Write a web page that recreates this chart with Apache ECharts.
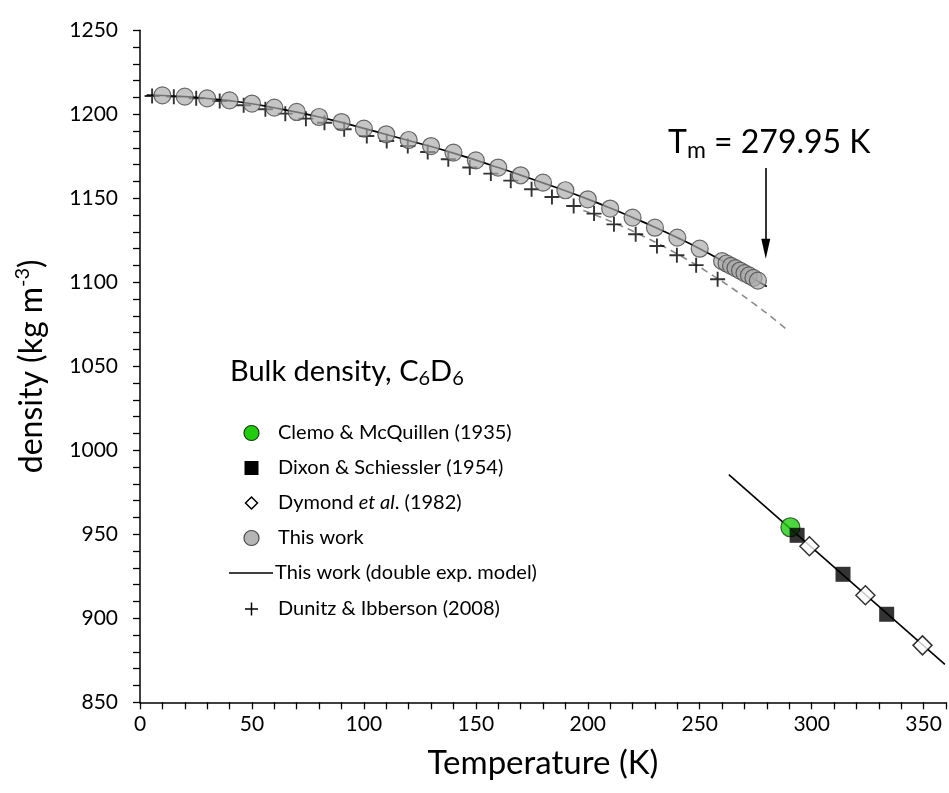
<!DOCTYPE html>
<html><head><meta charset="utf-8">
<script src="https://cdn.jsdelivr.net/npm/echarts@6/dist/echarts.min.js"></script>
<style>html,body{margin:0;padding:0;background:#fff}#c{width:949px;height:793px}</style>
</head><body><div id="c"></div>
<script>
// ---- data ----
const xTicks = [0, 50, 100, 150, 200, 250, 300, 350];
const yTicks = [850, 900, 950, 1000, 1050, 1100, 1150, 1200, 1250];
const thisWorkT = [10,20,30,40,50,60,70,80,90,100,110,120,130,140,150,160,170,180,190,200,210,220,230,240,250,260,262,264,266,268,270,272,274,276];
const thisWorkRho = [1211.3,1210.5,1209.5,1208.3,1206.4,1204.0,1201.4,1198.4,1195.4,1191.5,1188.1,1184.7,1181.1,1177.2,1172.6,1168.3,1163.7,1159.3,1154.8,1149.4,1143.9,1138.5,1132.5,1126.6,1120.0,1112.6,1111.2,1109.8,1108.4,1107.0,1105.5,1104.1,1102.6,1101.0];
const modelT = [3,10,20,30,40,50,60,70,80,90,100,110,120,130,140,150,160,170,180,190,200,210,220,230,240,250,260,270,279.95];
const modelRho = [1211.5,1211.2,1210.5,1209.4,1208.1,1206.3,1203.9,1201.3,1198.4,1195.2,1191.6,1188.0,1184.4,1180.8,1176.9,1172.7,1168.3,1163.8,1159.2,1154.5,1149.5,1144.2,1138.6,1132.8,1126.6,1120.0,1112.8,1105.3,1097.5];
const dunitzT = [5.4,15.1,25.1,35.6,46.3,56,64.9,74.1,82.4,91.2,101.3,110.2,119.6,128.5,137.7,147.3,156.7,165.6,174.9,184,193.7,202.8,211.7,221.4,230.9,239.8,248.4,258];
const dunitzRho = [1210.9,1210.5,1209.5,1207.9,1205.4,1203.0,1200.4,1197.4,1195.0,1191.1,1187.1,1184.1,1181.1,1177.6,1173.2,1168.3,1164.7,1160.5,1155.4,1150.8,1145.4,1140.9,1134.5,1128.6,1121.6,1116.1,1110.2,1101.8];
const dunitzFitT = [198,205,215,225,235,245,255,265,275,285,290];
const dunitzFitRho = [1142.8,1139.2,1133.5,1127.3,1120.5,1113.0,1104.8,1096.0,1086.5,1076.2,1070.5];
const clemoT = [290.5];
const clemoRho = [954.2];
const dixonT = [293.5, 314, 333.5];
const dixonRho = [949.4, 926.2, 902.4];
const dymondT = [299, 324, 349.5];
const dymondRho = [942.9, 913.7, 883.9];
const liquidLineT = [263, 359.5];
const liquidLineRho = [985.5, 872.6];
const meltT = 279.5;
const arrowRho = [1168, 1120];

const zip = (a, b) => a.map((v, i) => [v, b[i]]);
const FONT = 'Lato';
const crossPath = 'path://M0,5L10,5M5,0L5,10';

const chart = echarts.init(document.getElementById('c'));
const option = {
  backgroundColor: '#fff',
  animation: false,
  textStyle: { fontFamily: FONT, color: '#000' },
  grid: { left: 140, right: 1.5, top: 30.3, bottom: 90.7, containLabel: false },
  xAxis: {
    type: 'value', min: 0, max: 360, interval: 50,
    axisLine: { show: true, lineStyle: { color: '#000', width: 1.5 } },
    axisTick: { show: true, inside: false, length: 7, lineStyle: { color: '#000', width: 1.3 } },
    minorTick: { show: true, splitNumber: 5, length: 7, lineStyle: { color: '#000', width: 1.3 } },
    splitLine: { show: false },
    axisLabel: { fontSize: 21, color: '#000', margin: 11, fontFamily: FONT,
      formatter: v => xTicks.includes(v) ? String(v) : '' },
    name: 'Temperature (K)', nameLocation: 'middle', nameGap: 45,
    nameTextStyle: { fontSize: 33, color: '#000', fontFamily: FONT }
  },
  yAxis: {
    type: 'value', min: 850, max: 1250, interval: 50,
    axisLine: { show: true, lineStyle: { color: '#000', width: 1.5 } },
    axisTick: { show: true, inside: false, length: 7, lineStyle: { color: '#000', width: 1.3 } },
    minorTick: { show: true, splitNumber: 5, length: 7, lineStyle: { color: '#000', width: 1.3 } },
    splitLine: { show: false },
    axisLabel: { fontSize: 21, color: '#000', margin: 22, fontFamily: FONT,
      formatter: v => yTicks.includes(v) ? String(v) : '' },
    name: 'density (kg m{sup|-3})', nameLocation: 'middle', nameGap: 89, nameRotate: 90,
    nameTextStyle: { fontSize: 32, color: '#000', fontFamily: FONT,
      rich: { sup: { fontSize: 20, verticalAlign: 'bottom', padding: [0, 0, 18, 0], fontFamily: FONT, color: '#000' } } }
  },
  series: [
    { name: 'Dunitz fit', type: 'line', data: zip(dunitzFitT, dunitzFitRho), smooth: true, symbol: 'none',
      lineStyle: { color: '#8c8c8c', width: 1.6, type: [7, 5] }, z: 1 },
    { name: 'Dunitz & Ibberson (2008)', type: 'scatter', data: zip(dunitzT, dunitzRho), symbol: crossPath, symbolSize: 15,
      itemStyle: { color: 'none', borderColor: '#000', borderWidth: 1.9 }, z: 2 },
    { name: 'This work (double exp. model)', type: 'line', data: zip(modelT, modelRho), smooth: true, symbol: 'none',
      lineStyle: { color: '#000', width: 1.7 }, z: 3 },
    { name: 'This work', type: 'scatter', data: zip(thisWorkT, thisWorkRho), symbol: 'circle', symbolSize: 17,
      itemStyle: { color: 'rgba(170,170,170,0.85)', borderColor: '#4a4a4a', borderWidth: 1.2 }, z: 4 },
    { name: 'liquid line', type: 'line', data: zip(liquidLineT, liquidLineRho), symbol: 'none',
      lineStyle: { color: '#000', width: 1.6 }, z: 3,
      markLine: { silent: true, symbol: ['none', 'triangle'], symbolSize: [9, 20],
        lineStyle: { color: '#000', width: 1.6, type: 'solid' }, label: { show: false },
        data: [[{ coord: [meltT, arrowRho[0]] }, { coord: [meltT, arrowRho[1]] }]] } },
    { name: 'Clemo & McQuillen (1935)', type: 'scatter', data: zip(clemoT, clemoRho), symbol: 'circle', symbolSize: 19,
      itemStyle: { color: '#1fcc0f', borderColor: '#1a3d12', borderWidth: 1.2 }, z: 5 },
    { name: 'Dixon & Schiessler (1954)', type: 'scatter', data: zip(dixonT, dixonRho), symbol: 'rect', symbolSize: 15,
      itemStyle: { color: '#000' }, z: 6 },
    { name: 'Dymond et al. (1982)', type: 'scatter', data: zip(dymondT, dymondRho), symbol: 'diamond', symbolSize: [19, 19],
      itemStyle: { color: '#fff', borderColor: '#000', borderWidth: 1.5 }, z: 6 }
  ],
  graphic: [
    { type: 'text', x: 668, y: 143, style: { text: 'T{sub|m} = 279.95 K', font: '32px Lato', fill: '#000', verticalAlign: 'middle',
      rich: { sub: { font: '23px Lato', fill: '#000', padding: [16, 0, 0, 0] } } } },
    { type: 'text', x: 230, y: 372, style: { text: 'Bulk density, C{sub|6}D{sub|6}', font: '29px Lato', fill: '#000', verticalAlign: 'middle',
      rich: { sub: { font: '20px Lato', fill: '#000', padding: [13, 0, 0, 0] } } } },
    // legend symbols
    { type: 'circle', shape: { cx: 251.5, cy: 433, r: 7.5 }, style: { fill: '#1fcc0f', stroke: '#1a3d12', lineWidth: 1.2 } },
    { type: 'rect', shape: { x: 244.5, y: 461, width: 14, height: 14 }, style: { fill: '#000' } },
    { type: 'polygon', shape: { points: [[251.5, 497], [257.5, 503], [251.5, 509], [245.5, 503]] }, style: { fill: '#fff', stroke: '#000', lineWidth: 1.5 } },
    { type: 'circle', shape: { cx: 251.5, cy: 538, r: 7.5 }, style: { fill: '#b5b5b5', stroke: '#4a4a4a', lineWidth: 1.2 } },
    { type: 'line', shape: { x1: 229, y1: 573, x2: 273, y2: 573 }, style: { stroke: '#000', lineWidth: 1.6 } },
    { type: 'polyline', shape: { points: [[245, 609], [258, 609]] }, style: { stroke: '#000', lineWidth: 1.5 } },
    { type: 'polyline', shape: { points: [[251.5, 602.5], [251.5, 615.5]] }, style: { stroke: '#000', lineWidth: 1.5 } },
    // legend texts
    { type: 'text', x: 278, y: 433, style: { text: 'Clemo & McQuillen (1935)', font: '20px Lato', fill: '#000', verticalAlign: 'middle' } },
    { type: 'text', x: 278, y: 468, style: { text: 'Dixon & Schiessler (1954)', font: '20px Lato', fill: '#000', verticalAlign: 'middle' } },
    { type: 'text', x: 278, y: 503, style: { text: 'Dymond {it|et al}. (1982)', font: '20px Lato', fill: '#000', verticalAlign: 'middle',
      rich: { it: { font: 'italic 20px Lato', fill: '#000' } } } },
    { type: 'text', x: 278, y: 538, style: { text: 'This work', font: '20px Lato', fill: '#000', verticalAlign: 'middle' } },
    { type: 'text', x: 275, y: 573, style: { text: 'This work (double exp. model)', font: '20px Lato', fill: '#000', verticalAlign: 'middle' } },
    { type: 'text', x: 278, y: 609, style: { text: 'Dunitz & Ibberson (2008)', font: '20px Lato', fill: '#000', verticalAlign: 'middle' } }
  ]
};
chart.setOption(option);
</script></body></html>
